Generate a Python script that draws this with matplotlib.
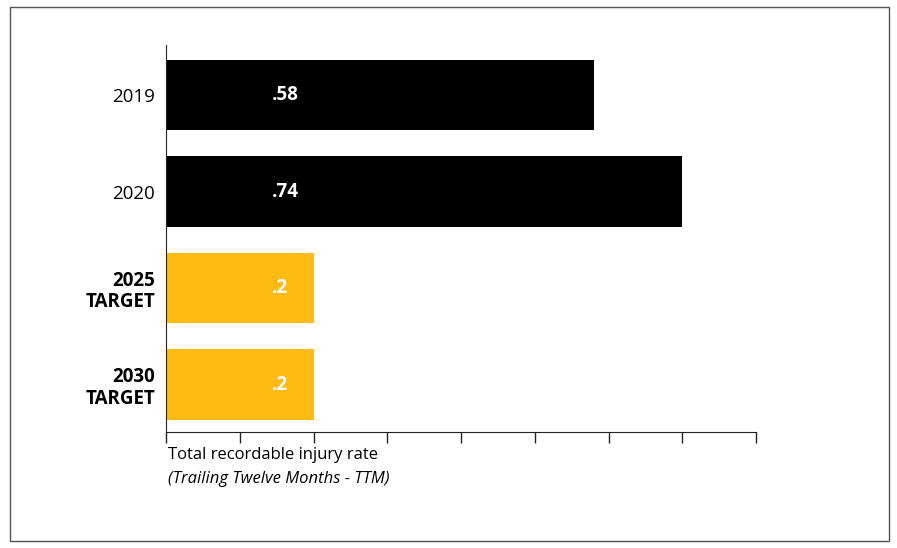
import matplotlib
matplotlib.use("Agg")
import matplotlib.pyplot as plt
from matplotlib.patches import Rectangle

plt.rcParams['font.family'] = ['Open Sans', 'DejaVu Sans']

categories = ["2019", "2020", "2025\nTARGET", "2030\nTARGET"]
values = [0.58, 0.70, 0.2, 0.2]
value_labels = [".58", ".74", ".2", ".2"]
colors = ["#000000", "#000000", "#FCBA12", "#FCBA12"]
bold = [False, False, True, True]

fig = plt.figure(figsize=(8.97, 5.48), dpi=100)
fig.patches.append(Rectangle((10/897, 7/548), 879/897, 534/548, transform=fig.transFigure,
                             fill=False, edgecolor="#555555", linewidth=1))
ax = fig.add_axes([166/897, 116/548, 590/897, 387/548])
ax.barh(range(4), values, height=0.73, color=colors)
ax.set_xlim(0, 0.8)
ax.set_ylim(3.49, -0.52)
ax.set_xticks([i/10 for i in range(9)])
ax.set_xticklabels([])
ax.tick_params(axis='x', direction='out', length=8, width=1, color='#222222')
ax.set_yticks(range(4))
ax.set_yticklabels(categories, fontsize=13.5)
for t, b in zip(ax.get_yticklabels(), bold):
    t.set_fontweight('bold' if b else 'normal')
    t.set_linespacing(1.1)
ax.tick_params(axis='y', length=0, pad=8)
for s in ['top', 'right']:
    ax.spines[s].set_visible(False)
for s in ['left', 'bottom']:
    ax.spines[s].set_color('#222222')
for i, (v, lab) in enumerate(zip(values, value_labels)):
    ax.text(0.143, i, lab, color='white', fontsize=13.5, fontweight='bold', va='center', ha='left')

fig.text(168/897, 1-455/548, "Total recordable injury rate", fontsize=12, va='center')
fig.text(168/897, 1-479/548, "(Trailing Twelve Months - TTM)", fontsize=12, style='italic', va='center')
fig.savefig("out.png", dpi=100)
